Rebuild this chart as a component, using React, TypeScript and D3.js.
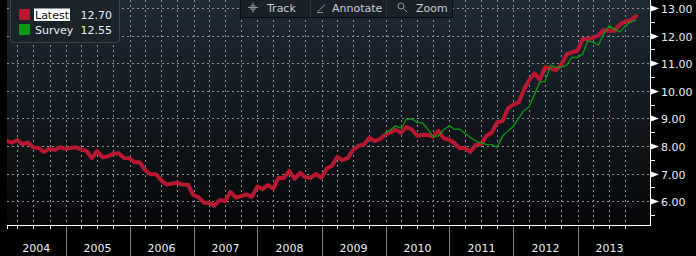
import React from 'react';
import * as d3 from 'd3';

// Monthly values (end of month), Jan 2004 .. Nov 2013
const latestValues = [
  8.19, 8.12, 8.22, 8.06, 8.13, 7.95, 7.93, 7.79, 7.90, 7.86, 7.96, 7.90,
  7.93, 7.96, 7.87, 7.83, 7.56, 7.82, 7.59, 7.63, 7.72, 7.74, 7.57, 7.56,
  7.42, 7.41, 7.13, 6.98, 6.98, 6.76, 6.61, 6.64, 6.67, 6.60, 6.60, 6.23,
  6.14, 5.95, 5.95, 5.84, 6.05, 6.00, 6.34, 6.13, 6.19, 6.25, 6.16, 6.53,
  6.44, 6.59, 6.46, 6.85, 6.84, 7.10, 6.81, 7.03, 6.87, 6.85, 6.99, 6.85,
  7.19, 7.28, 7.60, 7.49, 7.57, 7.86, 8.01, 8.06, 8.30, 8.18, 8.25, 8.42,
  8.50, 8.59, 8.48, 8.69, 8.60, 8.37, 8.41, 8.40, 8.34, 8.55, 8.28, 8.23,
  8.10, 7.92, 7.92, 7.79, 8.04, 8.07, 8.37, 8.50, 8.86, 8.90, 9.36, 9.50,
  9.58, 10.03, 10.39, 10.63, 10.41, 10.85, 10.81, 10.75, 10.93, 11.33, 11.39, 11.45,
  11.87, 11.87, 11.92, 12.01, 12.20, 12.17, 12.17, 12.40, 12.50, 12.56, 12.70,
];
const latestStart = { year: 2004, month: 0 };

// Survey values, Dec 2009 .. Nov 2013
const surveyValues = [
  8.46, 8.60, 8.73, 8.64, 8.97, 8.98, 8.86, 8.84, 8.60, 8.34, 8.37, 8.60,
  8.73, 8.61, 8.61, 8.46, 8.31, 8.19, 8.11, 8.06, 8.05, 7.95, 8.36, 8.54,
  8.71, 9.00, 9.28, 9.42, 9.87, 10.33, 10.33, 10.93, 10.85, 10.85, 10.93, 11.21,
  11.21, 11.33, 11.81, 11.75, 11.65, 12.07, 12.34, 12.23, 12.13, 12.34, 12.50, 12.55,
];
const surveyStart = { year: 2009, month: 11 };

const yearLabels = ['2004', '2005', '2006', '2007', '2008', '2009', '2010', '2011', '2012', '2013'];
const yTickValues = [6, 7, 8, 9, 10, 11, 12, 13];
const yMinorValues = [5.5, 6.5, 7.5, 8.5, 9.5, 10.5, 11.5, 12.5];
const legendNames = ['Latest', 'Survey'];
const legendValues = ['12.70', '12.55'];
const legendColors = ['#b8182f', '#0a9a12'];
const toolbarItems = ['Track', 'Annotate', 'Zoom'];

const W = 696;
const H = 256;
const plotLeft = 7;
const plotRight = 651;
const plotTop = 0;
const plotBottom = 225;
const FONT = '"DejaVu Sans", Verdana, sans-serif';
const LABEL = '#e6edf5';

const x = d3
  .scaleTime()
  .domain([new Date(2004, 0, 1), new Date(2014, 0, 1)])
  .range([1.5, 641.5]);
const y = d3.scaleLinear().domain([6, 13]).range([201.3, 7.9]);

const monthEnd = (start: { year: number; month: number }, k: number) =>
  new Date(start.year, start.month + k + 1, 0);

const latestData = latestValues.map((v, k) => ({ d: monthEnd(latestStart, k), v }));
const surveyData = surveyValues.map((v, k) => ({ d: monthEnd(surveyStart, k), v }));

const lineGen = d3
  .line<{ d: Date; v: number }>()
  .x((p) => x(p.d))
  .y((p) => y(p.v));

const quarters: Date[] = [];
for (let q = 1; q < 40; q++) quarters.push(new Date(2004, q * 3, 1));

export default function App() {
  const years = yearLabels.map((label) => {
    const yr = +label;
    const x0 = x(new Date(yr, 0, 1));
    const x1 = x(new Date(yr + 1, 0, 1));
    const a = Math.max(plotLeft, x0);
    const b = Math.min(plotRight, x1);
    return { label, x0, cx: (a + b) / 2 };
  });

  return (
    <svg
      width={W}
      height={H}
      style={{ position: 'fixed', left: 0, top: 0, display: 'block' }}
      fontFamily={FONT}
    >
      <defs>
        <linearGradient id="bg" x1="0" y1="0" x2="0" y2="1">
          <stop offset="0" stopColor="#1f2a35" />
          <stop offset="0.55" stopColor="#11171d" />
          <stop offset="1" stopColor="#07080a" />
        </linearGradient>
        <clipPath id="plotClip">
          <rect x={plotLeft} y={plotTop} width={plotRight - plotLeft} height={plotBottom - plotTop} />
        </clipPath>
      </defs>
      <rect x={0} y={0} width={W} height={H} fill="#000" />
      <rect
        x={plotLeft}
        y={plotTop}
        width={plotRight - plotLeft}
        height={plotBottom - plotTop}
        fill="url(#bg)"
      />

      {/* grid */}
      <g stroke="#8e9398" strokeWidth={1} strokeDasharray="2,3" clipPath="url(#plotClip)">
        {yTickValues.map((t) => (
          <line
            key={'h' + t}
            x1={plotLeft}
            x2={plotRight}
            y1={Math.round(y(t)) + 0.5}
            y2={Math.round(y(t)) + 0.5}
          />
        ))}
        {quarters.map((d, i) => (
          <line
            key={'v' + i}
            x1={Math.round(x(d)) + 0.5}
            x2={Math.round(x(d)) + 0.5}
            y1={plotTop}
            y2={plotBottom}
          />
        ))}
      </g>

      {/* series */}
      <g clipPath="url(#plotClip)" fill="none" strokeLinejoin="round" strokeLinecap="round">
        <path d={lineGen(latestData) || ''} stroke={legendColors[0]} strokeWidth={4} />
        <path d={lineGen(surveyData) || ''} stroke={legendColors[1]} strokeWidth={1.3} />
      </g>

      {/* bottom axis */}
      <line x1={plotLeft} x2={plotRight} y1={225.5} y2={225.5} stroke="#fff" strokeWidth={1} />
      <line x1={plotLeft + 0.5} x2={plotLeft + 0.5} y1={225} y2={229} stroke="#fff" />
      {quarters.map((d, i) => (
        <line
          key={'xt' + i}
          x1={Math.round(x(d)) + 0.5}
          x2={Math.round(x(d)) + 0.5}
          y1={225}
          y2={229}
          stroke="#fff"
        />
      ))}
      {years.slice(1).map((yr) => (
        <line
          key={'ys' + yr.label}
          x1={Math.round(yr.x0) + 0.5}
          x2={Math.round(yr.x0) + 0.5}
          y1={226}
          y2={H}
          stroke="#7d7d7d"
        />
      ))}
      {years.map((yr) => (
        <text key={'yl' + yr.label} x={yr.cx} y={252} fill={LABEL} fontSize={11} textAnchor="middle">
          {yr.label}
        </text>
      ))}

      {/* right axis */}
      <line x1={650.5} x2={650.5} y1={plotTop} y2={225.5} stroke="#fff" />
      {yMinorValues.map((t) => (
        <line
          key={'ym' + t}
          x1={651}
          x2={655}
          y1={Math.round(y(t)) + 0.5}
          y2={Math.round(y(t)) + 0.5}
          stroke="#fff"
        />
      ))}
      {yTickValues.map((t) => {
        const yy = Math.round(y(t)) + 0.5;
        return (
          <g key={'yt' + t}>
            <path d={`M651,${yy - 3}L659,${yy}L651,${yy + 3}Z`} fill="#fff" />
            <text x={661} y={yy + 4} fill={LABEL} fontSize={11}>
              {t.toFixed(2)}
            </text>
          </g>
        );
      })}

      {/* legend */}
      <rect x={10.5} y={-3.5} width={109} height={46} rx={3} fill="#1a222a" stroke="#3c434b" />
      {legendNames.map((name, i) => {
        const ly = 9 + i * 15;
        return (
          <g key={'lg' + name}>
            <rect x={19} y={ly} width={11} height={11} fill={legendColors[i]} />
            {i === 0 && <rect x={34} y={ly - 0.5} width={36} height={12.5} fill="#fff" />}
            <text x={35} y={ly + 10} fontSize={11} fill={i === 0 ? '#111' : LABEL}>
              {name}
            </text>
            <text x={112} y={ly + 10} fontSize={11} fill={LABEL} textAnchor="end">
              {legendValues[i]}
            </text>
          </g>
        );
      })}

      {/* toolbar */}
      <rect x={240.5} y={-2.5} width={212} height={20} fill="#1b2129" stroke="#0b0d10" />
      <line x1={310.5} x2={310.5} y1={0} y2={17} stroke="#2c333b" />
      <line x1={386.5} x2={386.5} y1={0} y2={17} stroke="#2c333b" />
      <g stroke="#8f969c" fill="none" strokeWidth={1}>
        <circle cx={253} cy={7.5} r={2.5} />
        <line x1={248} x2={258} y1={7.5} y2={7.5} />
        <line x1={253} x2={253} y1={2.5} y2={12.5} />
        <line x1={318} x2={325} y1={11.5} y2={4.5} />
        <line x1={317} x2={323} y1={12.5} y2={12.5} />
        <circle cx={401} cy={6} r={3} />
        <line x1={403.5} x2={407} y1={8.5} y2={12} />
      </g>
      {toolbarItems.map((t, i) => (
        <text
          key={'tb' + t}
          x={[267, 332, 416][i]}
          y={12}
          fontSize={11}
          fill="#c8cdd2"
        >
          {t}
        </text>
      ))}
    </svg>
  );
}
